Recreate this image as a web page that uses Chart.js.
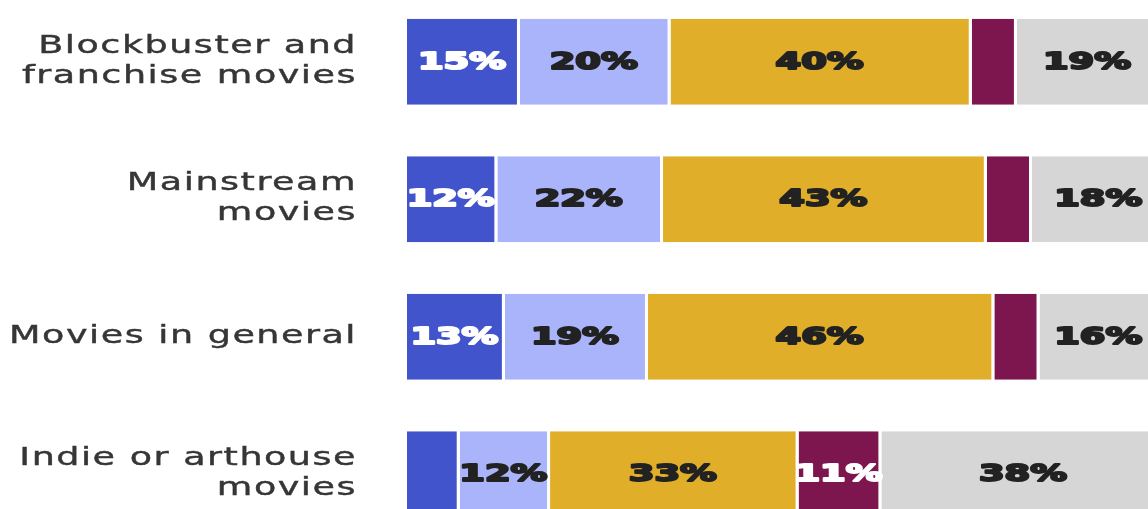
<!DOCTYPE html>
<html lang="en">
<head>
  <meta charset="UTF-8" />
  <script src="https://cdn.jsdelivr.net/npm/chart.js@4"></script>
  <title>Movie types</title>
  <style>
    html, body { margin: 0; padding: 0; background: #fff; overflow: hidden; }
    #wrap { position: absolute; left: 0; top: -7px; width: 1172px; height: 550px; }
  </style>
</head>
<body>
  <div id="wrap"><canvas id="movieChart"></canvas></div>

  <script>
    const categories = [
      ['Blockbuster and', 'franchise movies'],
      ['Mainstream', 'movies'],
      ['Movies in general'],
      ['Indie or arthouse', 'movies']
    ];
    const blueShare = [15, 12, 13, 7];
    const lightBlueShare = [20, 22, 19, 12];
    const goldShare = [40, 43, 46, 33];
    const maroonShare = [6, 6, 6, 11];
    const greyShare = [19, 18, 16, 38];

    const colors = ['#4254cc', '#aab4fa', '#e0ae28', '#7d164e', '#d6d6d6'];
    const textColors = ['#ffffff', '#222222', '#222222', '#ffffff', '#222222'];

    // segment labels, hidden for the thin ones
    const segmentLabels = {
      id: 'segmentLabels',
      afterDatasetsDraw(chart) {
        const ctx = chart.ctx;
        chart.data.datasets.forEach((ds, di) => {
          const meta = chart.getDatasetMeta(di);
          meta.data.forEach((bar, i) => {
            const v = ds.data[i];
            if (v < 10) return;
            const p = bar.getProps(['x', 'base', 'y'], true);
            const cx = (p.x + p.base) / 2 - 1.5;
            ctx.save();
            ctx.font = 'bold 23px "DejaVu Sans"';
            ctx.fillStyle = textColors[di];
            ctx.strokeStyle = textColors[di];
            ctx.lineWidth = 2;
            ctx.lineJoin = 'round';
            ctx.textAlign = 'center';
            ctx.textBaseline = 'middle';
            ctx.translate(cx, p.y + 1);
            ctx.scale(1.6, 1);
            ctx.strokeText(v + '%', 0, 0);
            ctx.fillText(v + '%', 0, 0);
            ctx.restore();
          });
        });
      }
    };

    // wide category names to the left of the bars
    const categoryNames = {
      id: 'categoryNames',
      afterDraw(chart) {
        const ctx = chart.ctx;
        const y = chart.scales.y;
        const right = y.right - 50;
        const lineH = 30;
        categories.forEach((lines, i) => {
          const cy = y.getPixelForTick(i);
          const top = cy - (lines.length - 1) * lineH / 2;
          lines.forEach((line, k) => {
            ctx.save();
            ctx.font = '24px "DejaVu Sans"';
            ctx.letterSpacing = '1px';
            ctx.fillStyle = '#363636';
            ctx.strokeStyle = '#363636';
            ctx.lineWidth = 0.4;
            ctx.textAlign = 'right';
            ctx.textBaseline = 'middle';
            ctx.translate(right, top + k * lineH);
            ctx.scale(1.52, 1);
            ctx.fillText(line, 0, 0);
            ctx.strokeText(line, 0, 0);
            ctx.restore();
          });
        });
      }
    };

    const series = [blueShare, lightBlueShare, goldShare, maroonShare, greyShare];

    new Chart(document.getElementById('movieChart'), {
      type: 'bar',
      data: {
        labels: categories,
        datasets: series.map((data, i) => ({
          data: data,
          backgroundColor: colors[i],
          borderColor: '#ffffff',
          borderWidth: { top: 0, bottom: 0, left: 0, right: 3 },
          borderSkipped: false,
          barPercentage: 0.625,
          categoryPercentage: 1
        }))
      },
      options: {
        indexAxis: 'y',
        responsive: true,
        maintainAspectRatio: false,
        animation: false,
        layout: { padding: { left: 0, right: 12, top: 0, bottom: 0 } },
        plugins: {
          legend: { display: false },
          tooltip: { enabled: false }
        },
        scales: {
          x: {
            stacked: true,
            min: 0,
            max: 100,
            display: false
          },
          y: {
            stacked: true,
            grid: { display: false },
            border: { display: false },
            ticks: { display: false },
            afterFit(scale) { scale.width = 407; }
          }
        }
      },
      plugins: [segmentLabels, categoryNames]
    });
  </script>
</body>
</html>
